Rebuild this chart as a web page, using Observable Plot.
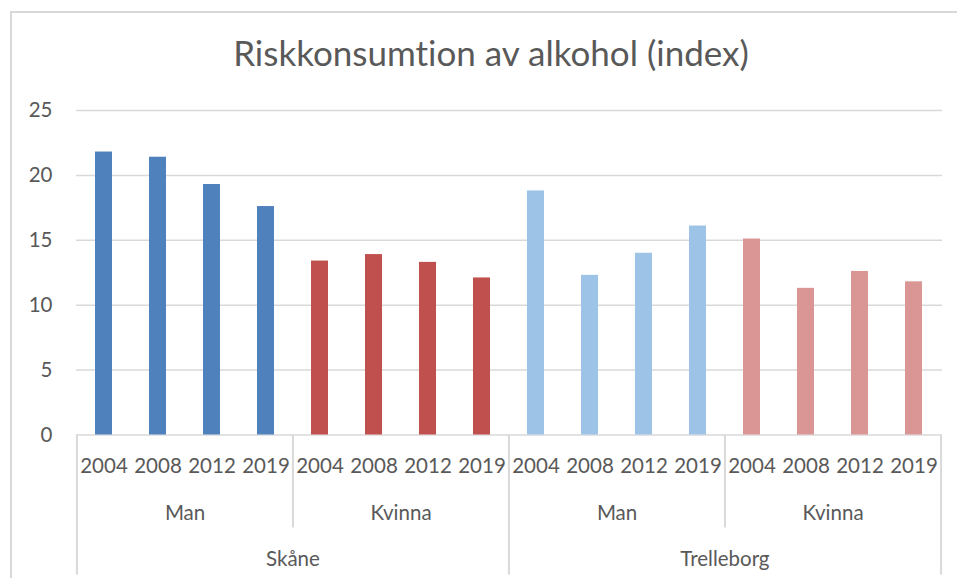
<!DOCTYPE html>
<html>
<head>
<meta charset="utf-8">
<script src="https://cdn.jsdelivr.net/npm/d3@7"></script>
<script src="https://cdn.jsdelivr.net/npm/@observablehq/plot@0.6"></script>
<style>
  html, body { margin: 0; padding: 0; background: #fff; }
  body { width: 957px; height: 578px; position: relative; overflow: hidden; font-family: Lato, "Open Sans", sans-serif; font-variant-ligatures: none; }
  svg text { font-variant-ligatures: none; }
  #border { position: absolute; left: 10px; top: 11px; width: 1000px; height: 600px; border-left: 2px solid #D9D9D9; border-top: 2px solid #D9D9D9; }
  #title { position: absolute; left: 0; top: 0; width: 982px; height: 80px; text-align: center; font-size: 35px; line-height: 1; padding-top: 35px; box-sizing: border-box; color: #595959; }
  #chart { position: absolute; left: 0; top: 80px; }
</style>
</head>
<body>
<div id="border"></div>
<div id="title">Riskkonsumtion av alkohol (index)</div>
<div id="chart"></div>
<script>
const years = ["2004", "2008", "2012", "2019"];
const regions = ["Skåne", "Trelleborg"];
const sexes = ["Man", "Kvinna"];
const skaneMan = [21.8, 21.4, 19.3, 17.6];
const skaneKvinna = [13.4, 13.9, 13.3, 12.1];
const trelleborgMan = [18.8, 12.3, 14.0, 16.1];
const trelleborgKvinna = [15.1, 11.3, 12.6, 11.8];
const yTicks = [0, 5, 10, 15, 20, 25];
const groupColors = ["#4F81BD", "#C0504D", "#9DC3E6", "#DA9694"];

const series = {
  "Skåne|Man": skaneMan,
  "Skåne|Kvinna": skaneKvinna,
  "Trelleborg|Man": trelleborgMan,
  "Trelleborg|Kvinna": trelleborgKvinna
};

const groups = [];
regions.forEach(r => sexes.forEach(s => groups.push({region: r, sex: s, group: r + "|" + s})));

const data = [];
groups.forEach(g => years.forEach((y, i) => data.push({
  key: g.group + "|" + y, group: g.group, region: g.region, sex: g.sex, year: y, value: series[g.group][i]
})));
const keys = data.map(d => d.key);

const sexLabels = groups.map(g => ({label: g.sex, key: g.group + "|" + years[1]}));
const regionLabels = regions.map(r => ({label: r, key: r + "|" + sexes[1] + "|" + years[0]}));
const shortSeps = groups.filter(g => g.sex === sexes[1]).map(g => ({key: g.group + "|" + years[0]}));
const longSepsLeft = regions.map(r => ({key: r + "|" + sexes[0] + "|" + years[0]}));
const longSepsRight = [{key: keys[keys.length - 1]}];

const W = 957, H = 498;
const mL = 76, mR = 15, mT = 30, mB = 143.5;
const step = (W - mL - mR) / keys.length;
const frameH = H - mT - mB;
const textColor = "#595959";
const fs = 20.5;

const chart = Plot.plot({
  width: W,
  height: H,
  marginLeft: mL,
  marginRight: mR,
  marginTop: mT,
  marginBottom: mB,
  style: {fontFamily: "Lato, 'Open Sans', sans-serif", background: "transparent", overflow: "visible"},
  x: {domain: keys, paddingInner: 0.68, paddingOuter: 0.34, axis: null, label: null},
  y: {domain: [0, 25], axis: null, label: null},
  color: {domain: groups.map(g => g.group), range: groupColors},
  marks: [
    Plot.ruleY(yTicks, {stroke: "#D9D9D9", strokeWidth: 1.5}),
    Plot.barY(data, {x: "key", y: "value", fill: "group"}),
    Plot.axisY({ticks: yTicks, tickSize: 0, tickPadding: 24, fontSize: fs, fill: textColor, label: null}),
    Plot.axisX({tickFormat: k => k.split("|")[2], tickSize: 0, tickPadding: 23, fontSize: fs, fill: textColor, label: null}),
    Plot.text(sexLabels, {x: "key", text: "label", frameAnchor: "bottom", dx: step / 2, dy: 84.5, fontSize: fs, fill: textColor}),
    Plot.text(regionLabels, {x: "key", text: "label", frameAnchor: "bottom", dx: -step / 2, dy: 130.5, fontSize: fs, fill: textColor}),
    Plot.ruleX(shortSeps, {x: "key", dx: -step / 2, insetTop: frameH, insetBottom: -93, stroke: "#D9D9D9", strokeWidth: 2}),
    Plot.ruleX(longSepsLeft, {x: "key", dx: -step / 2, insetTop: frameH, insetBottom: -140, stroke: "#D9D9D9", strokeWidth: 2}),
    Plot.ruleX(longSepsRight, {x: "key", dx: step / 2, insetTop: frameH, insetBottom: -140, stroke: "#D9D9D9", strokeWidth: 2})
  ]
});
document.getElementById("chart").appendChild(chart);
</script>
</body>
</html>
